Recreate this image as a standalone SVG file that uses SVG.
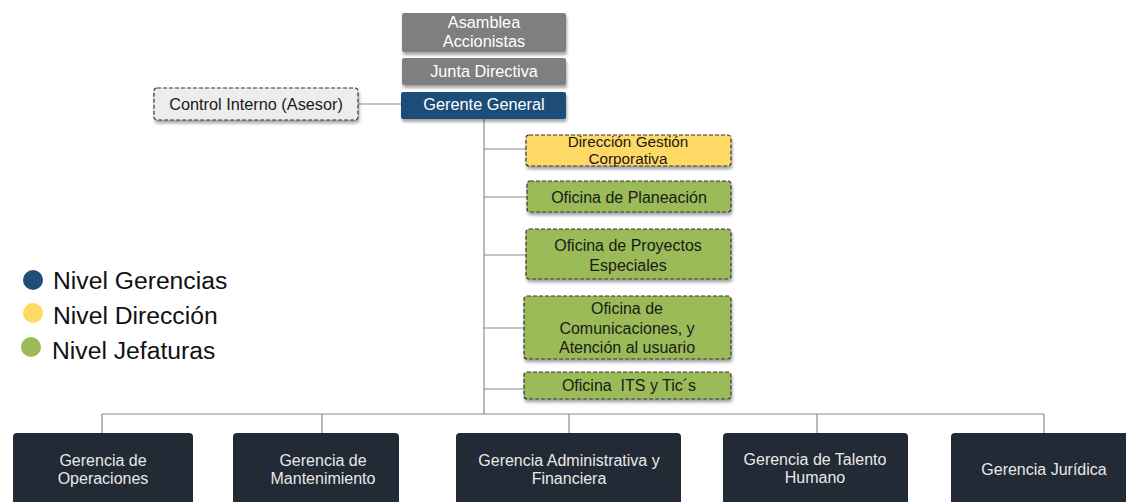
<svg xmlns="http://www.w3.org/2000/svg" width="1126" height="502" viewBox="0 0 1126 502">
<style>
text{font-family:"Liberation Sans",Arial,sans-serif;text-anchor:middle}
.w{fill:#FFFFFF;font-size:16.3px}
.d{fill:#1A1A1A;font-size:16px}
.g{fill:#E8E8E8;font-size:16px}
.lg{fill:#111111;font-size:24.7px;text-anchor:start}
.top{fill:#7F7F7F}
.dash{stroke:#333;stroke-width:1.2;stroke-dasharray:4 2}
.y{fill:#FFD966}
.gr{fill:#9BBB59}
.nv{fill:#222A35}
.ln{stroke:#8C8C8C;stroke-width:1.2;fill:none}
</style>
<defs>
<filter id="sh" x="-10%" y="-20%" width="120%" height="150%">
<feDropShadow dx="1" dy="3" stdDeviation="1.5" flood-color="#000" flood-opacity="0.35"/>
</filter>
</defs>
<rect width="1126" height="502" fill="#FFFFFF"/>
<g id="connectors">
<line class="ln" x1="358" y1="104" x2="401" y2="104"/>
<line class="ln" x1="484" y1="119" x2="484" y2="414"/>
<line class="ln" x1="484" y1="149" x2="526" y2="149"/>
<line class="ln" x1="484" y1="197" x2="527" y2="197"/>
<line class="ln" x1="484" y1="255" x2="526" y2="255"/>
<line class="ln" x1="484" y1="328" x2="524" y2="328"/>
<line class="ln" x1="484" y1="389" x2="524" y2="389"/>
<line class="ln" x1="102" y1="414" x2="1044" y2="414"/>
<line class="ln" x1="102" y1="414" x2="102" y2="433"/>
<line class="ln" x1="322" y1="414" x2="322" y2="433"/>
<line class="ln" x1="569" y1="414" x2="569" y2="433"/>
<line class="ln" x1="817" y1="414" x2="817" y2="433"/>
<line class="ln" x1="1044" y1="414" x2="1044" y2="433"/>
</g>
<g id="asamblea">
<rect class="top" x="402" y="13" width="164" height="39" rx="2" filter="url(#sh)"/>
<text class="w" x="484" y="28">Asamblea</text>
<text class="w" x="484" y="47">Accionistas</text>
</g>
<g id="junta">
<rect class="top" x="402" y="58" width="164" height="27" rx="2" filter="url(#sh)"/>
<text class="w" x="484" y="77">Junta Directiva</text>
</g>
<g id="gerente">
<rect x="401" y="92" width="165" height="27" rx="2" fill="#1F4E79" filter="url(#sh)"/>
<text class="w" x="484" y="110">Gerente General</text>
</g>
<g id="control">
<rect x="154" y="88" width="204" height="32" rx="3" fill="#EDEDED" class="dash" filter="url(#sh)"/>
<text class="d" x="256" y="110" style="font-size:16.3px">Control Interno (Asesor)</text>
</g>
<g id="direccion">
<rect class="y dash" x="526" y="135" width="205" height="31" rx="3" filter="url(#sh)"/>
<text class="d" x="628" y="147" style="font-size:15.3px">Dirección Gestión</text>
<text class="d" x="628" y="164" style="font-size:15.3px">Corporativa</text>
</g>
<g id="planeacion">
<rect class="gr dash" x="527" y="181" width="204" height="31" rx="3" filter="url(#sh)"/>
<text class="d" x="629" y="203">Oficina de Planeación</text>
</g>
<g id="proyectos">
<rect class="gr dash" x="526" y="229" width="205" height="50" rx="3" filter="url(#sh)"/>
<text class="d" x="628" y="251">Oficina de Proyectos</text>
<text class="d" x="628" y="271">Especiales</text>
</g>
<g id="comunicaciones">
<rect class="gr dash" x="524" y="296" width="207" height="63" rx="3" filter="url(#sh)"/>
<text class="d" x="627" y="314">Oficina de</text>
<text class="d" x="627" y="334">Comunicaciones, y</text>
<text class="d" x="627" y="353">Atención al usuario</text>
</g>
<g id="its">
<rect class="gr dash" x="524" y="372" width="207" height="27" rx="3" filter="url(#sh)"/>
<text class="d" x="629" y="391" style="white-space:pre">Oficina  ITS y Tic´s</text>
</g>
<g id="legend">
<circle cx="33" cy="280" r="10" fill="#1F4E79"/>
<text class="lg" x="53" y="289">Nivel Gerencias</text>
<circle cx="33" cy="313" r="10" fill="#FFD966"/>
<text class="lg" x="53" y="324">Nivel Dirección</text>
<circle cx="31" cy="347" r="10" fill="#9BBB59"/>
<text class="lg" x="52" y="359">Nivel Jefaturas</text>
</g>
<g id="g-operaciones">
<rect class="nv" x="13" y="433" width="180" height="75" rx="4"/>
<text class="g" x="103" y="466">Gerencia de</text>
<text class="g" x="103" y="484">Operaciones</text>
</g>
<g id="g-mantenimiento">
<rect class="nv" x="233" y="433" width="166" height="75" rx="4"/>
<text class="g" x="323" y="466">Gerencia de</text>
<text class="g" x="323" y="484">Mantenimiento</text>
</g>
<g id="g-administrativa">
<rect class="nv" x="456" y="433" width="225" height="75" rx="4"/>
<text class="g" x="569" y="466">Gerencia Administrativa y</text>
<text class="g" x="569" y="484">Financiera</text>
</g>
<g id="g-talento">
<rect class="nv" x="723" y="433" width="185" height="75" rx="4"/>
<text class="g" x="815" y="465">Gerencia de Talento</text>
<text class="g" x="815" y="483">Humano</text>
</g>
<g id="g-juridica">
<rect class="nv" x="951" y="433" width="180" height="75" rx="4"/>
<text class="g" x="1044" y="475">Gerencia Jurídica</text>
</g>
</svg>
